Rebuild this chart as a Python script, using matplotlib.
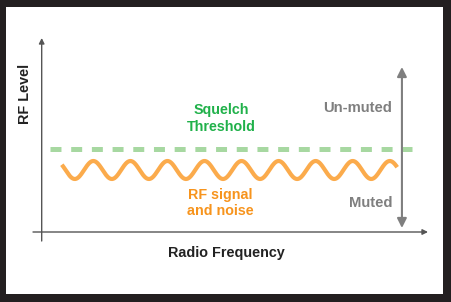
import numpy as np
import matplotlib
matplotlib.use("Agg")
import matplotlib.pyplot as plt
from matplotlib.patches import Rectangle

plt.rcParams['font.family'] = ['Liberation Sans', 'DejaVu Sans']
plt.rcParams['lines.scale_dashes'] = False

# ---- values (data units: 0..100 on each axis) ----
axis_x_pos = 2.2          # where the level axis stands
axis_y_pos = 4.5          # where the frequency axis lies
threshold_level = 46.0
threshold_span = [4.3, 96.0]
signal_level = 35.5
signal_amplitude = 4.5
signal_span = [7.3, 92.2]
signal_cycles = 9.05
signal_phase_deg = 144.0
range_arrow_x = 93.4
range_arrow_span = [6.5, 87.0]

labels = {
    "threshold": "Squelch\nThreshold",
    "signal": "RF signal\nand noise",
    "unmuted": "Un-muted",
    "muted": "Muted",
    "xlabel": "Radio Frequency",
    "ylabel": "RF Level",
}

GREEN_TXT = '#20b14a'
GREEN_LINE = '#a7d8a1'
ORANGE_TXT = '#f7941d'
ORANGE_LINE = '#fbab4c'
GREY = '#7f7f7f'
FRAME = '#231f20'

fig = plt.figure(figsize=(4.52, 3.02), dpi=100, facecolor=FRAME)
bg = Rectangle((6/452, 8/302), 437/452, 287/302,
               transform=fig.transFigure, facecolor='white',
               edgecolor='none', zorder=-10)
fig.patches.append(bg)

ax = fig.add_axes([33/452, 61/302, 395/452, 200/302])
ax.set_zorder(5)
ax.set_xlim(0, 100)
ax.set_ylim(0, 100)
ax.axis('off')
ax.patch.set_alpha(0)

# axes arrows
ax.annotate('', xy=(axis_x_pos, 101.5), xytext=(axis_x_pos, 0),
            annotation_clip=False,
            arrowprops=dict(arrowstyle='-|>', color='#555555', lw=1.0,
                            mutation_scale=8, shrinkA=0, shrinkB=0,
                            facecolor='#222222'))
ax.annotate('', xy=(100, axis_y_pos), xytext=(0, axis_y_pos),
            annotation_clip=False,
            arrowprops=dict(arrowstyle='-|>', color='#555555', lw=1.0,
                            mutation_scale=8, shrinkA=0, shrinkB=0,
                            facecolor='#222222'))

# threshold dashed line
ax.plot(threshold_span, [threshold_level, threshold_level], color=GREEN_LINE,
        lw=3.6, dashes=(7.9, 7.0), solid_capstyle='butt', dash_capstyle='butt')

# signal wave
xs = np.linspace(signal_span[0], signal_span[1], 600)
theta = np.deg2rad(signal_phase_deg) + 2*np.pi*signal_cycles*(xs - signal_span[0])/(signal_span[1]-signal_span[0])
ax.plot(xs, signal_level + signal_amplitude*np.sin(theta), color=ORANGE_LINE,
        lw=3.0, solid_capstyle='butt')

# muted / unmuted double arrow
ax.annotate('', xy=(range_arrow_x, range_arrow_span[1]), xytext=(range_arrow_x, range_arrow_span[0]),
            annotation_clip=False,
            arrowprops=dict(arrowstyle='<|-|>', color=GREY, lw=1.5,
                            mutation_scale=14, shrinkA=0, shrinkB=0))

ax.text(47.6, 61.25, labels["threshold"], color=GREEN_TXT, fontsize=10.3,
        fontweight='bold', ha='center', va='center', linespacing=1.2)
ax.text(47.3, 19.0, labels["signal"], color=ORANGE_TXT, fontsize=10.3,
        fontweight='bold', ha='center', va='center', linespacing=1.15)
ax.text(90.9, 66.5, labels["unmuted"], color=GREY, fontsize=10.6,
        fontweight='bold', ha='right', va='center')
ax.text(90.9, 19.0, labels["muted"], color=GREY, fontsize=10.6,
        fontweight='bold', ha='right', va='center')
ax.text(49.0, -6.0, labels["xlabel"], color='#222222', fontsize=10.4,
        fontweight='bold', ha='center', va='center', clip_on=False)
ax.text(-2.0, 73.5, labels["ylabel"], color='#222222', fontsize=10.4,
        fontweight='bold', ha='center', va='center', rotation=90, clip_on=False)

fig.savefig('out.png', dpi=100, facecolor=FRAME)
